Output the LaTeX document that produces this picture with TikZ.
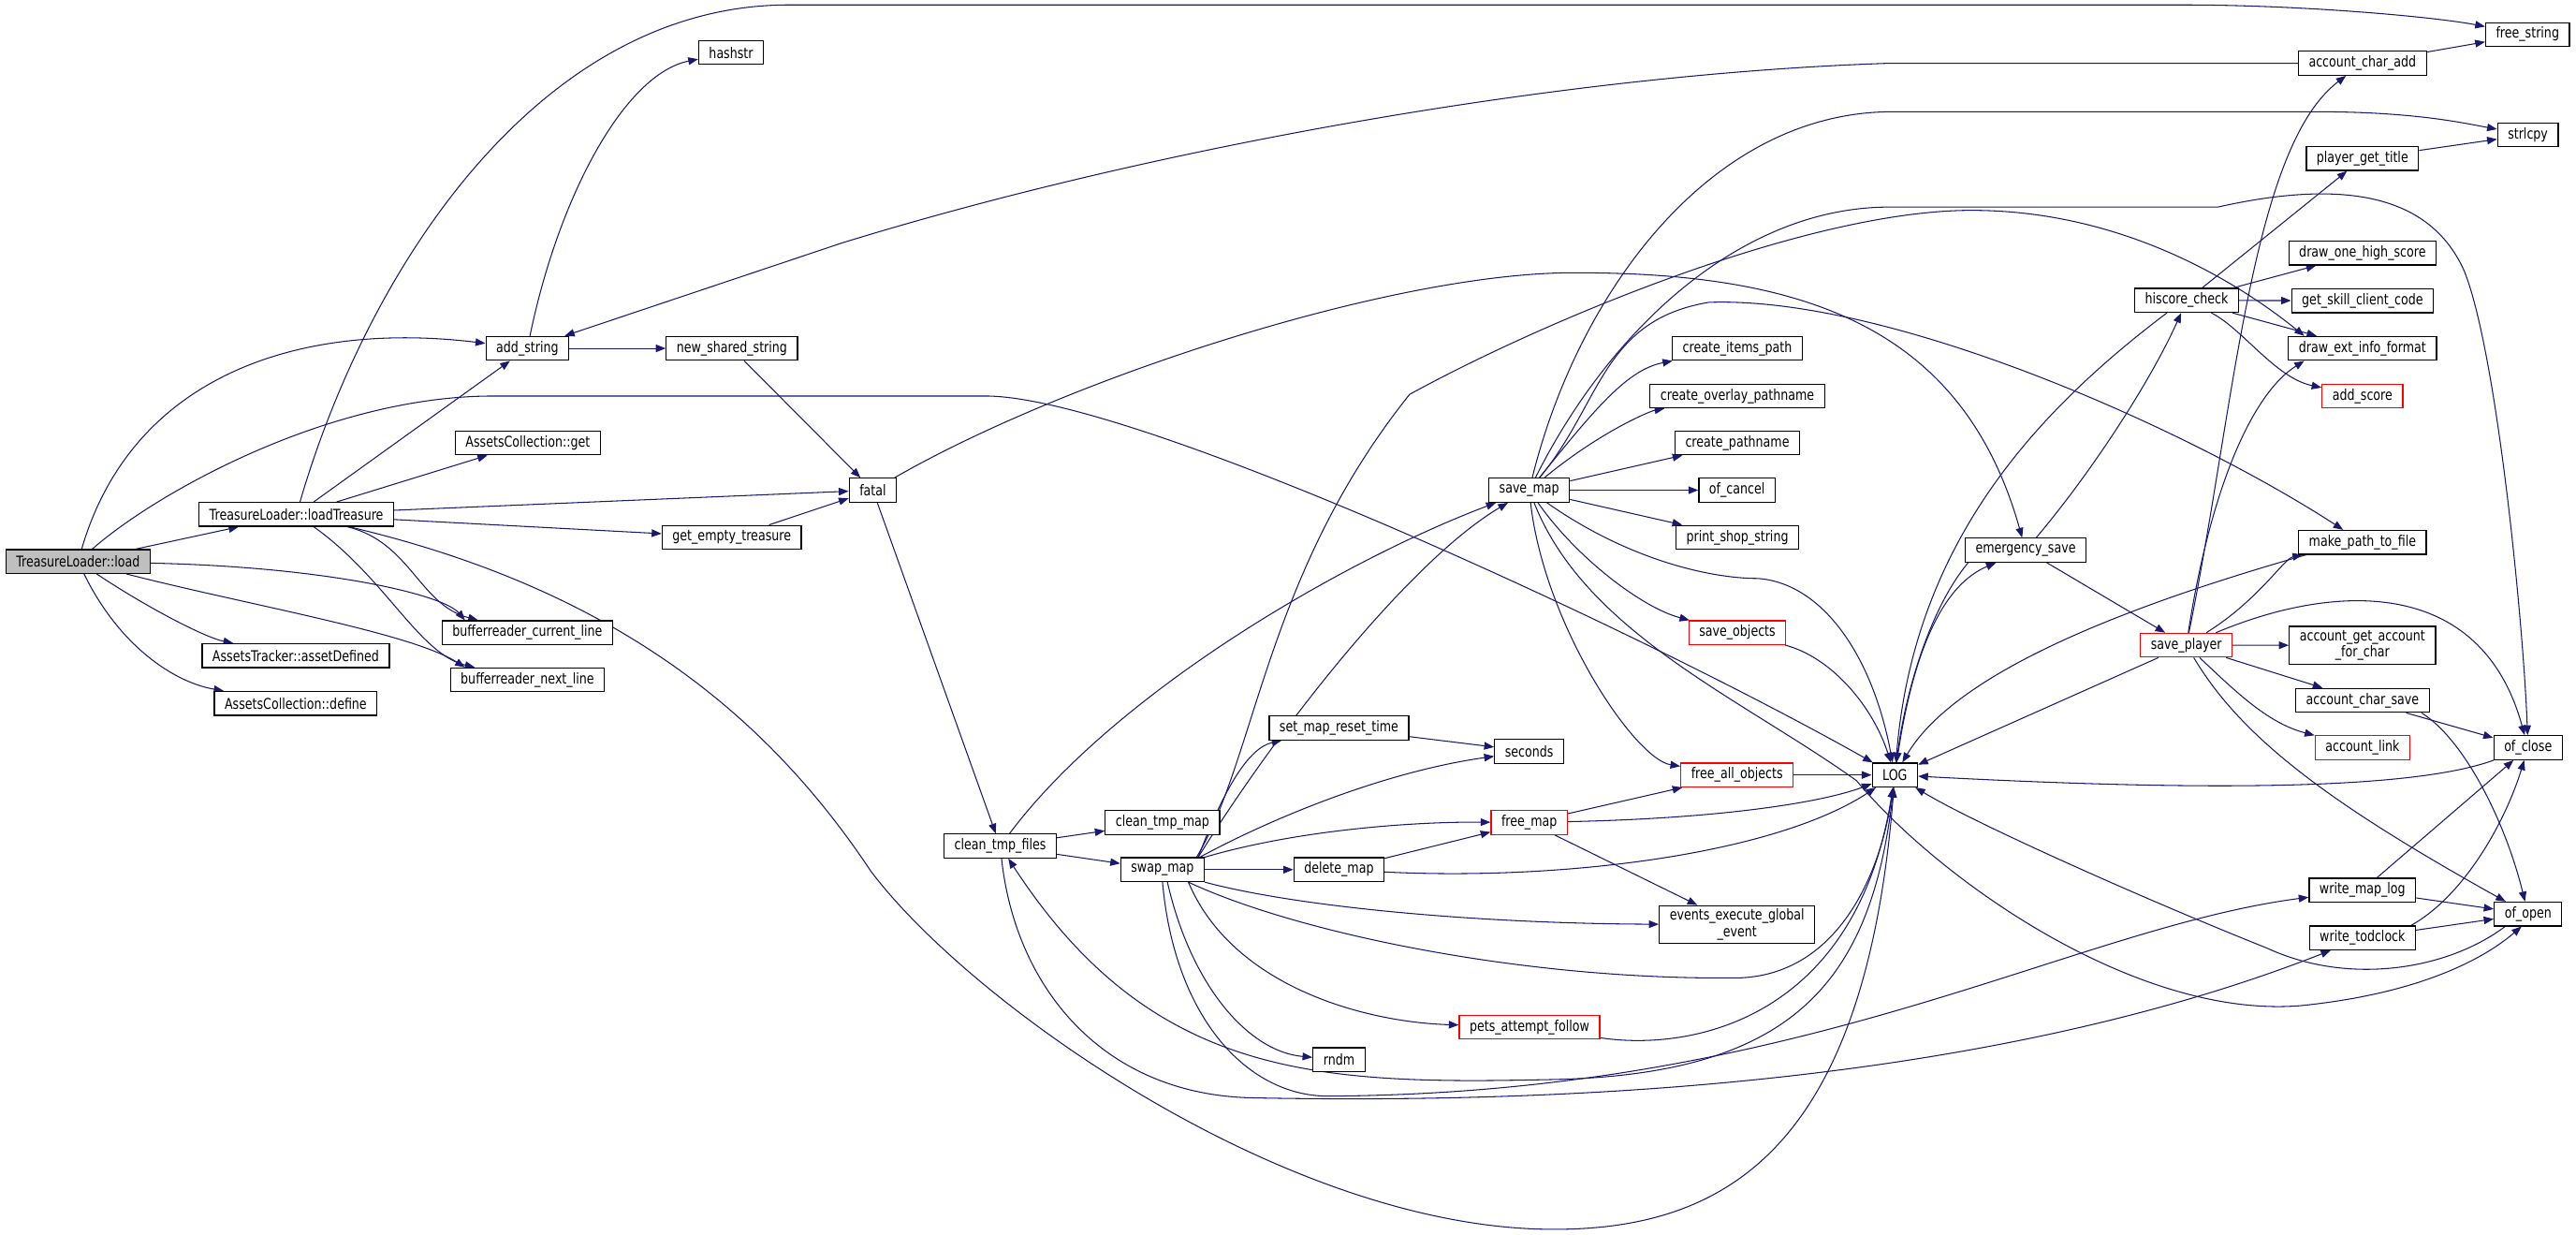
\documentclass[tikz,border=0pt]{standalone}
\usepackage{fontspec}
\newfontfamily\graphfont{DejaVu Sans}[FakeStretch=0.8]
\usetikzlibrary{arrows.meta}
\usetikzlibrary{backgrounds}
\definecolor{edgeblue}{RGB}{25,25,112}
\definecolor{rootgray}{RGB}{191,191,191}
\tikzset{
  fn/.style={draw=black, fill=white, line width=0.7pt, inner xsep=6.3pt, inner ysep=0pt,
    minimum height=14.5pt, font=\graphfont\fontsize{9}{10}\selectfont},
  rootfn/.style={fn, fill=rootgray},
  redfn/.style={fn, draw=red},
  twofn/.style={fn, align=center, minimum height=23pt},
  call/.style={edgeblue, line width=0.6pt, -{Triangle[length=6pt,width=4.6pt]}},
}

\begin{document}
\begin{tikzpicture}[x=1pt, y=-1pt]
\useasboundingbox (0,0) rectangle (1568,751);

% nodes, column by column
\node[rootfn] (load) at (47.5,341.7) {TreasureLoader::load};
\node[fn] (loadtr) at (180.4,313) {TreasureLoader::loadTreasure};
\node[fn] (assetdef) at (180,399) {AssetsTracker::assetDefined};
\node[fn] (acdefine) at (180,428) {AssetsCollection::define};
\node[fn] (addstr) at (321,212) {add\_string};
\node[fn] (acget) at (321.3,269.5) {AssetsCollection::get};
\node[fn] (brcur) at (321,385) {bufferreader\_current\_line};
\node[fn] (brnext) at (321,413.7) {bufferreader\_next\_line};
\node[fn] (hashstr) at (445,32) {hashstr};
\node[fn] (newshared) at (445.5,212) {new\_shared\_string};
\node[fn] (getempty) at (445.4,327) {get\_empty\_treasure};
\node[fn] (fatal) at (531.3,298.3) {fatal};
\node[fn] (cleanfiles) at (608.8,514.8) {clean\_tmp\_files};
\node[fn] (cleanmap) at (707.6,500.5) {clean\_tmp\_map};
\node[fn] (swapmap) at (707.6,529.2) {swap\_map};
\node[fn] (setreset) at (815,443) {set\_map\_reset\_time};
\node[fn] (deletemap) at (815,529.2) {delete\_map};
\node[fn] (rndm) at (815,644.8) {rndm};
\node[fn] (savemap) at (930.8,298.3) {save\_map};
\node[fn] (seconds) at (930.8,457.2) {seconds};
\node[redfn] (freemap) at (930.8,500.5) {free\_map};
\node[redfn] (pets) at (931,625) {pets\_attempt\_follow};
\node[fn] (itemspath) at (1057.5,212) {create\_items\_path};
\node[fn] (overlay) at (1057.5,241) {create\_overlay\_pathname};
\node[fn] (createpath) at (1057.5,269.5) {create\_pathname};
\node[fn] (ofcancel) at (1057.3,298.3) {of\_cancel};
\node[fn] (printshop) at (1057.5,327) {print\_shop\_string};
\node[redfn] (saveobj) at (1057.5,385) {save\_objects};
\node[redfn] (freeall) at (1057.3,471.6) {free\_all\_objects};
\node[twofn] (events) at (1057.3,562.6) {events\_execute\_global\\\_event};
\node[fn] (log) at (1153.4,471.6) {LOG};
\node[fn] (emergency) at (1233,334.8) {emergency\_save};
\node[fn] (hiscore) at (1331,182.8) {hiscore\_check};
\node[redfn] (saveplayer) at (1330.8,392.6) {save\_player};
\node[fn] (charadd) at (1438,38.5) {account\_char\_add};
\node[fn] (playertitle) at (1438,96.5) {player\_get\_title};
\node[fn] (drawone) at (1438,154) {draw\_one\_high\_score};
\node[fn] (skillcode) at (1438,183) {get\_skill\_client\_code};
\node[fn] (extinfo) at (1438,212) {draw\_ext\_info\_format};
\node[redfn] (addscore) at (1438,241) {add\_score};
\node[fn] (makepath) at (1438,330) {make\_path\_to\_file};
\node[twofn] (getaccount) at (1438,392.7) {account\_get\_account\\\_for\_char};
\node[fn] (charsave) at (1438,426.2) {account\_char\_save};
\node[redfn] (acclink) at (1438,455) {account\_link};
\node[fn] (writemaplog) at (1438,541.7) {write\_map\_log};
\node[fn] (todclock) at (1438,570.7) {write\_todclock};
\node[fn] (freestr) at (1538.5,21) {free\_string};
\node[fn] (strlcpy) at (1538.7,82) {strlcpy};
\node[fn] (ofclose) at (1538.8,455) {of\_close};
\node[fn] (ofopen) at (1538.8,556.2) {of\_open};

\begin{scope}[on background layer]
% TreasureLoader::load
\draw[call] (load) .. controls (80,230) and (180,195) .. (addstr);
\draw[call] (load) -- (loadtr);
\draw[call] (load) .. controls (95,300) and (200,241) .. (300,241) -- (600,241) .. controls (690,241) and (1000,385) .. (log);
\draw[call] (load) .. controls (200,345) and (270,362) .. ([xshift=-38pt]brcur.north);
\draw[call] (load) .. controls (150,368) and (250,385) .. ([xshift=-38pt]brnext.north);
\draw[call] (load) .. controls (90,370) and (125,388) .. (assetdef);
\draw[call] (load) .. controls (72,392) and (105,415) .. (acdefine);
% loadTreasure
\draw[call] (loadtr) .. controls (225,160) and (330,3) .. (480,3) -- (1330,3) .. controls (1400,3) and (1480,10) .. (freestr);
\draw[call] (loadtr) -- (addstr);
\draw[call] (loadtr) -- (acget);
\draw[call] (loadtr) -- (fatal);
\draw[call] (loadtr) -- (getempty);
\draw[call] (loadtr) .. controls (250,330) and (255,368) .. ([xshift=-30pt]brcur.north);
\draw[call] (loadtr) .. controls (235,352) and (255,398) .. ([xshift=-32pt]brnext.north);
\draw[call] (loadtr) .. controls (380,360) and (470,440) .. (530,530) .. controls (590,610) and (780,745) .. (940,748) .. controls (1050,750) and (1135,700) .. (log);
% strings and fatal
\draw[call] (addstr) .. controls (340,120) and (380,45) .. (hashstr);
\draw[call] (addstr) -- (newshared);
\draw[call] (newshared) -- (fatal);
\draw[call] (getempty) -- (fatal);
\draw[call] (fatal) -- (cleanfiles);
\draw[call] (fatal) .. controls (650,230) and (850,165) .. (960,166) .. controls (1100,166) and (1195,200) .. (emergency);
% clean_tmp_files
\draw[call] (cleanfiles) .. controls (680,420) and (820,340) .. (savemap);
\draw[call] (cleanfiles) -- (cleanmap);
\draw[call] (cleanfiles) -- (swapmap);
\draw[call] (cleanfiles) .. controls (618,600) and (670,665) .. (760,668) .. controls (1100,675) and (1300,625) .. (todclock);
% swap_map
\draw[call] ([xshift=-4pt]swapmap.north east) .. controls (780,440) and (860,340) .. (savemap);
\draw[call] ([xshift=-4pt]swapmap.north east) .. controls (745,480) and (760,455) .. (setreset);
\draw[call] ([xshift=-3pt]swapmap.north east) .. controls (770,500) and (840,470) .. (seconds);
\draw[call] (swapmap.north east) .. controls (790,505) and (860,500) .. (freemap);
\draw[call] (swapmap) -- (deletemap);
\draw[call] (swapmap.south east) .. controls (790,552) and (900,562) .. (events);
\draw[call] ([xshift=-10pt]swapmap.south east) .. controls (790,568) and (930,597) .. (1060,595) .. controls (1120,592) and (1145,530) .. (log);
\draw[call] ([xshift=-10pt]swapmap.south east) .. controls (750,600) and (830,622) .. (pets);
\draw[call] ([xshift=3pt]swapmap.south) .. controls (725,600) and (760,640) .. (rndm);
\draw[call] (swapmap.south) .. controls (715,620) and (760,668) .. (810,667) .. controls (1100,665) and (1260,565) .. (writemaplog);
\draw[call] ([xshift=-5pt]swapmap.north east) .. controls (765,460) and (770,350) .. (858,240) .. controls (940,195) and (1100,128) .. (1200,128) .. controls (1290,128) and (1360,170) .. ([xshift=10pt]extinfo.north west);
% save_map
\draw[call] (savemap) .. controls (960,180) and (1040,68) .. (1152,68) -- (1410,68) .. controls (1470,68) and (1500,75) .. (strlcpy);
\draw[call] (savemap) .. controls (980,200) and (1060,126) .. (1150,126) -- (1350,126) .. controls (1430,108) and (1480,120) .. (1500,165) .. controls (1520,215) and (1536,380) .. (ofclose);
\draw[call] (savemap) .. controls (975,245) and (975,195) .. (1040,184) .. controls (1150,180) and (1330,260) .. (makepath);
\draw[call] (savemap) .. controls (970,250) and (990,225) .. (itemspath);
\draw[call] (savemap) .. controls (975,262) and (1005,250) .. (overlay);
\draw[call] (savemap) -- (createpath);
\draw[call] (savemap) -- (ofcancel);
\draw[call] (savemap) -- (printshop);
\draw[call] (savemap) .. controls (960,340) and (1000,370) .. (saveobj);
\draw[call] (savemap) .. controls (940,380) and (995,462) .. (freeall);
\draw[call] (savemap) .. controls (990,340) and (1040,352) .. (1070,352) .. controls (1110,355) and (1140,400) .. (log);
\draw[call] (savemap) .. controls (965,385) and (1060,425) .. (1130,475) .. controls (1180,535) and (1300,620) .. (1400,612) .. controls (1470,605) and (1510,585) .. ([xshift=-4pt]ofopen.south);
% LOG
\draw[call] (log) .. controls (1165,390) and (1185,355) .. (emergency);
\draw[call] (log) .. controls (1140,600) and (1090,655) .. (940,657) .. controls (800,660) and (700,655) .. (cleanfiles);
% emergency_save and hiscore_check
\draw[call] (emergency) .. controls (1275,285) and (1310,230) .. (hiscore);
\draw[call] (emergency) -- (saveplayer);
\draw[call] ([xshift=-35pt]emergency.south) .. controls (1175,370) and (1160,420) .. (log);
\draw[call] (hiscore) -- (playertitle);
\draw[call] (hiscore) -- (drawone);
\draw[call] (hiscore) -- (skillcode);
\draw[call] (hiscore) -- (extinfo);
\draw[call] (hiscore) .. controls (1365,200) and (1385,230) .. (addscore);
\draw[call] ([xshift=-12pt]hiscore.south) .. controls (1240,250) and (1165,330) .. (log);
% save_player
\draw[call] (saveplayer) .. controls (1360,250) and (1370,90) .. (charadd);
\draw[call] (saveplayer) .. controls (1345,300) and (1370,240) .. ([xshift=10pt]extinfo.south west);
\draw[call] (saveplayer) .. controls (1375,365) and (1390,340) .. (makepath);
\draw[call] (saveplayer) .. controls (1420,355) and (1510,350) .. (ofclose);
\draw[call] (saveplayer) -- (getaccount);
\draw[call] (saveplayer) -- (charsave);
\draw[call] (saveplayer) .. controls (1360,420) and (1380,440) .. (acclink);
\draw[call] (saveplayer) .. controls (1365,450) and (1420,490) .. (ofopen);
\draw[call] (saveplayer) -- (log);
% right hand side
\draw[call] (charadd) -- (freestr);
\draw[call] (charadd) -- (1150,38.5) .. controls (950,45) and (700,90) .. (512,148) -- (addstr);
\draw[call] (playertitle) -- (strlcpy);
\draw[call] (charsave) -- (ofclose);
\draw[call] ([xshift=-5pt]charsave.south east) .. controls (1500,450) and (1525,500) .. (ofopen);
\draw[call] (writemaplog) -- (ofclose);
\draw[call] (writemaplog) -- (ofopen);
\draw[call] ([xshift=-3pt]todclock.north east) .. controls (1500,545) and (1525,500) .. (ofclose);
\draw[call] (todclock) -- (ofopen);
\draw[call] (ofclose) .. controls (1470,480) and (1350,482) .. (log);
\draw[call] ([xshift=-14pt]ofopen.south) .. controls (1490,590) and (1430,600) .. (1380,577) .. controls (1300,545) and (1200,500) .. (log);
\draw[call] ([xshift=5pt]makepath.south west) .. controls (1290,370) and (1190,410) .. (log);
% middle
\draw[call] (saveobj) .. controls (1115,400) and (1140,430) .. (log);
\draw[call] (freeall) -- (log);
\draw[call] (freemap) -- (freeall);
\draw[call] (freemap) .. controls (1050,498) and (1110,488) .. (log);
\draw[call] (freemap) -- (events);
\draw[call] (deletemap) -- (freemap);
\draw[call] (deletemap) .. controls (950,536) and (1080,520) .. (log);
\draw[call] (setreset) -- (seconds);
\draw[call] (pets) .. controls (1030,640) and (1130,620) .. (log);
\end{scope}
\end{tikzpicture}
\end{document}
